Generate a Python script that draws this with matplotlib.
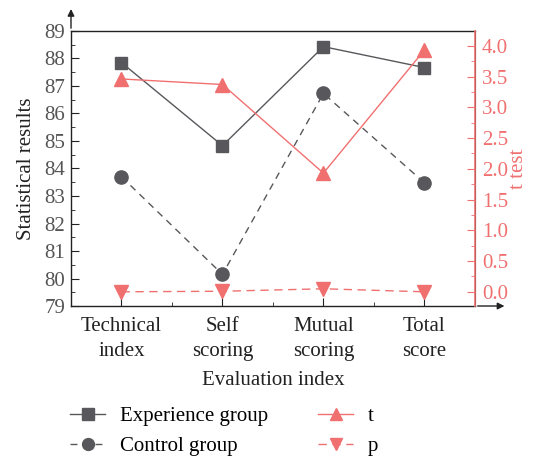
import matplotlib
matplotlib.use("Agg")
import matplotlib.pyplot as plt
from matplotlib.ticker import MultipleLocator, FixedLocator

categories = ["Technical\nindex", "Self\nscoring", "Mutual\nscoring", "Total\nscore"]
experience = [87.85, 84.83, 88.43, 87.67]
control = [83.7, 80.15, 86.73, 83.48]
t_vals = [3.46, 3.37, 1.93, 3.93]
p_vals = [0.001, 0.01, 0.05, 0.001]

plt.rcParams['font.family'] = ['Liberation Serif', 'DejaVu Serif']
GRAY = '#58585c'
RED = '#f07070'
TICKC = '#555555'
FS = 15

fig = plt.figure(figsize=(5.33, 4.61), dpi=100)
ax = fig.add_axes([0.1332, 0.3362, 0.891 - 0.1332, 0.9328 - 0.3362])
x = list(range(len(categories)))

l1, = ax.plot(x, experience, '-', color=GRAY, marker='s', ms=9, lw=1.0, label='Experience group')
l2, = ax.plot(x, control, '--', color=GRAY, marker='o', ms=9.5, lw=1.0, dashes=(5, 4), label='Control group')
ax.set_xlim(-0.5, 3.5)
ax.set_ylim(79, 89)
ax.yaxis.set_major_locator(MultipleLocator(1))
ax.yaxis.set_minor_locator(MultipleLocator(0.5))
ax.set_xticks(x)
ax.set_xticklabels(categories, linespacing=1.45)
ax.xaxis.set_minor_locator(FixedLocator([0.5, 1.5, 2.5]))
ax.tick_params(axis='both', which='both', direction='in', labelsize=FS, colors='#222222')
ax.tick_params(axis='y', which='major', length=6, labelcolor=TICKC, pad=4)
ax.tick_params(axis='y', which='minor', length=3)
ax.tick_params(axis='x', which='major', length=6, labelcolor='#222222', pad=8)
ax.tick_params(axis='x', which='minor', length=3)
ax.set_ylabel('Statistical results', fontsize=FS, color='#222222', labelpad=6)
ax.set_xlabel('Evaluation index', fontsize=FS, color='#222222', labelpad=7)
for s in ['left', 'bottom', 'top']:
    ax.spines[s].set_color('#222222')
    ax.spines[s].set_linewidth(1.0)

ax2 = ax.twinx()
l3, = ax2.plot(x, t_vals, '-', color=RED, marker='^', ms=10, lw=1.0, label='t')
l4, = ax2.plot(x, p_vals, '--', color=RED, marker='v', ms=10, lw=1.0, dashes=(6, 4), label='p')
ax2.set_ylim(-0.23, 4.24)
ax2.yaxis.set_major_locator(MultipleLocator(0.5))
ax2.yaxis.set_minor_locator(MultipleLocator(0.25))
ax2.yaxis.set_major_formatter(matplotlib.ticker.FormatStrFormatter('%.1f'))
ax2.tick_params(axis='y', which='both', direction='in', colors=RED, labelsize=FS, pad=5)
ax2.tick_params(axis='y', which='major', length=6)
ax2.tick_params(axis='y', which='minor', length=3)
ax2.spines['right'].set_color(RED)
ax2.spines['right'].set_linewidth(1.2)
ax2.spines['top'].set_visible(False)
ax2.spines['left'].set_visible(False)
ax2.spines['bottom'].set_visible(False)
ax2.set_ylabel('t test', fontsize=FS, color=RED, rotation=90, labelpad=1)

# arrows on left and bottom axes
ax.annotate('', xy=(0, 1.09), xytext=(0, 1.0), xycoords='axes fraction',
            arrowprops=dict(arrowstyle='-|>', color='#222222', lw=1.0, mutation_scale=10), annotation_clip=False)
ax.annotate('', xy=(1.08, 0), xytext=(1.0, 0), xycoords='axes fraction',
            arrowprops=dict(arrowstyle='-|>', color='#222222', lw=1.0, mutation_scale=10), annotation_clip=False)

fig.legend(handles=[l1, l2, l3, l4], labels=['Experience group', 'Control group', 't', 'p'],
           ncol=2, loc='lower left', bbox_to_anchor=(0.096, -0.03), frameon=False,
           fontsize=FS, handlelength=1.7, columnspacing=2.4, labelspacing=0.5,
           handletextpad=0.7, markerscale=0.9)

fig.savefig('out.png', dpi=100)
